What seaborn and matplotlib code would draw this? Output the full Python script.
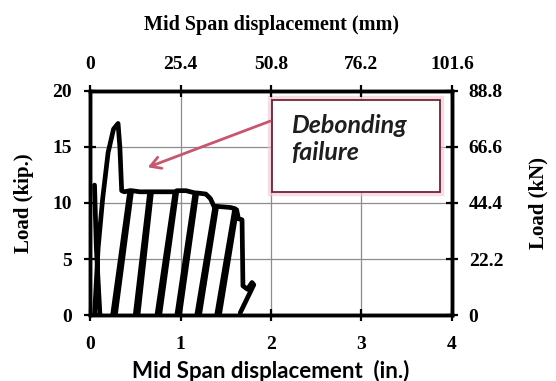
import matplotlib
matplotlib.use("Agg")
import matplotlib.pyplot as plt
import seaborn as sns
import pandas as pd
from matplotlib.patches import Rectangle

# Load–displacement trace (inches, kips), in drawing order
disp_in = [0.05, 0.07, 0.11, 0.05, 0.09, 0.14, 0.20, 0.26, 0.31, 0.33,
           0.35, 0.38,
           0.44, 0.25, 0.28, 0.46, 0.55,
           0.66, 0.50, 0.53, 0.68, 0.80,
           0.94, 0.74, 0.77, 0.96, 1.06,
           1.16, 0.96, 0.99, 1.18, 1.28, 1.33, 1.37,
           1.38, 1.18, 1.21, 1.40, 1.55,
           1.60, 1.40, 1.43, 1.62, 1.64, 1.68, 1.69, 1.74, 1.79, 1.81, 1.66]
load_kip = [11.6, 6.0, 0.0, 0.0, 6.0, 10.4, 14.5, 16.6, 17.1, 15.0,
            11.1, 11.0,
            11.1, 0.0, 0.0, 11.1, 11.0,
            11.0, 0.0, 0.0, 11.0, 11.0,
            11.0, 0.0, 0.0, 11.1, 11.1,
            10.9, 0.0, 0.0, 10.9, 10.8, 10.4, 9.7,
            9.7, 0.0, 0.0, 9.7, 9.6,
            9.5, 0.0, 0.0, 9.4, 8.6, 8.5, 2.6, 2.3, 2.9, 2.7, 0.2]

x_ticks_in = [0, 1, 2, 3, 4]
y_ticks_kip = [0, 5, 10, 15, 20]
x_ticks_mm = [0, 25.4, 50.8, 76.2, 101.6]
y_ticks_kn = [0, 22.2, 44.4, 66.6, 88.8]

df = pd.DataFrame({"disp": disp_in, "load": load_kip})

sns.set_theme(style="white")
plt.rcParams["text.color"] = "black"
plt.rcParams["axes.labelcolor"] = "black"
serif = ["Liberation Serif", "DejaVu Serif"]
sans = ["Lato", "DejaVu Sans"]

W, H = 556, 381
fig = plt.figure(figsize=(W / 100, H / 100), dpi=100)
ax = fig.add_axes([90 / W, 1 - 315 / H, 362 / W, 224 / H])

sns.lineplot(data=df, x="disp", y="load", sort=False, estimator=None,
             color="black", linewidth=3.4, ax=ax)
ax.lines[0].set_solid_joinstyle("round")
ax.lines[0].set_solid_capstyle("round")

ax.set_xlim(0, 4)
ax.set_ylim(0, 20)
ax.set_xticks(x_ticks_in)
ax.set_yticks(y_ticks_kip)
ax.grid(True, color="#8c8c8c", linewidth=0.9)


def style_ticks(a, axis, pad):
    a.tick_params(axis=axis, direction="inout", length=8, width=1.6,
                  colors="black", labelsize=14, pad=pad)
    labs = a.get_xticklabels() if axis == "x" else a.get_yticklabels()
    for lab in labs:
        lab.set_fontfamily(serif)
        lab.set_fontweight("bold")


style_ticks(ax, "x", 11)
style_ticks(ax, "y", 9)
ax.set_xlabel("Mid Span displacement  (in.)", fontsize=16, fontweight="bold",
              family=sans, labelpad=5, color="black")
ax.set_ylabel("Load (kip.)", fontsize=15, fontweight="bold", family=serif,
              labelpad=13, color="black")

# Metric axes (kN on the right, mm on top)
axr = ax.twinx()
axr.set_ylim(0, 88.8)
axr.set_yticks(y_ticks_kn)
axr.set_yticklabels([f"{v:g}" for v in y_ticks_kn])
style_ticks(axr, "y", 8)
axr.set_ylabel("Load (kN)", fontsize=15, fontweight="bold", family=serif,
               labelpad=18, color="black")
axr.grid(False)

axt = ax.twiny()
axt.set_xlim(0, 101.6)
axt.set_xticks(x_ticks_mm)
axt.set_xticklabels([f"{v:g}" for v in x_ticks_mm])
style_ticks(axt, "x", 9)
axt.set_xlabel("Mid Span displacement (mm)", fontsize=14.5, fontweight="bold",
               family=serif, labelpad=19, color="black")
axt.grid(False)

for a in (ax, axr, axt):
    for s in a.spines.values():
        s.set_linewidth(2.4)
        s.set_color("black")

# Annotation box with a soft pink halo, text and arrow
ax.add_patch(Rectangle((2.01, 11.0), 1.86, 8.2, transform=ax.transData,
                       facecolor="none", edgecolor="#f4c6d2", linewidth=6,
                       alpha=0.6, zorder=4))
ax.add_patch(Rectangle((2.01, 11.0), 1.86, 8.2, transform=ax.transData,
                       facecolor="white", edgecolor="#6e2436", linewidth=1.3,
                       zorder=5))
ax.text(2.22, 15.7, "Debonding\nfailure", fontsize=18, fontweight="bold",
        fontstyle="italic", family=sans, color="#1e1e1e", va="center",
        ha="left", linespacing=1.2, zorder=6)
ax.annotate("", xy=(0.61, 13.1), xytext=(2.02, 17.4),
            arrowprops=dict(arrowstyle="->,head_length=0.6,head_width=0.35",
                            color="#c8566e", lw=2.0), zorder=6)

fig.savefig("out.png", dpi=100)
